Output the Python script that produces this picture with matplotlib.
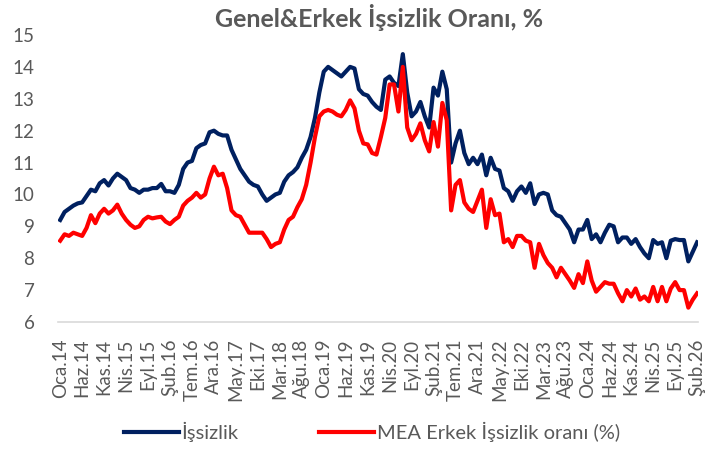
import matplotlib.pyplot as plt

plt.rcParams['font.family'] = ['Lato', 'DejaVu Sans']

aylar = ['Oca', 'Şub', 'Mar', 'Nis', 'May', 'Haz', 'Tem', 'Ağu', 'Eyl', 'Eki', 'Kas', 'Ara']
donemler = [f'{aylar[i % 12]}.{14 + i // 12}' for i in range(146)]

# İşsizlik (genel), Oca.14 - Şub.26
issizlik = [
    9.2, 9.45, 9.55, 9.65, 9.72, 9.75, 9.95, 10.15, 10.1, 10.35, 10.45, 10.28,
    10.5, 10.65, 10.55, 10.45, 10.2, 10.15, 10.05, 10.15, 10.15, 10.2, 10.2, 10.33,
    10.1, 10.1, 10.05, 10.3, 10.8, 11.0, 11.05, 11.45, 11.55, 11.6, 11.95, 12.0,
    11.9, 11.85, 11.85, 11.4, 11.1, 10.8, 10.6, 10.4, 10.3, 10.25, 10.0, 9.8,
    9.9, 10.0, 10.05, 10.4, 10.6, 10.7, 10.85, 11.15, 11.4, 11.8, 12.4, 13.2,
    13.85, 14.0, 13.9, 13.8, 13.7, 13.85, 14.0, 13.95, 13.3, 13.15, 13.1, 12.9,
    12.75, 12.65, 13.6, 13.7, 13.5, 13.4, 14.4, 13.2, 12.45, 12.6, 12.9, 12.45,
    12.1, 13.35, 13.1, 13.85, 13.3, 11.0, 11.6, 12.0, 11.3, 10.95, 11.15, 10.95,
    11.25, 10.6, 11.15, 10.8, 10.75, 10.2, 10.1, 9.8, 10.1, 10.25, 10.05, 10.35,
    9.7, 10.0, 10.05, 10.0, 9.5, 9.35, 9.3, 9.1, 8.9, 8.5, 8.9, 8.9,
    9.2, 8.6, 8.75, 8.5, 8.8, 9.05, 9.0, 8.5, 8.65, 8.65, 8.45, 8.6,
    8.35, 8.15, 8.0, 8.57, 8.45, 8.5, 8.0, 8.55, 8.6, 8.57, 8.57, 7.9,
    8.2, 8.5,
]

# MEA erkek işsizlik oranı (%)
erkek = [
    8.55, 8.75, 8.7, 8.8, 8.75, 8.7, 8.95, 9.35, 9.1, 9.4, 9.55, 9.4,
    9.5, 9.68, 9.4, 9.2, 9.05, 8.95, 9.0, 9.2, 9.3, 9.25, 9.28, 9.3,
    9.15, 9.07, 9.2, 9.3, 9.65, 9.8, 9.9, 10.05, 9.9, 10.0, 10.5, 10.87,
    10.6, 10.65, 10.2, 9.5, 9.35, 9.3, 9.05, 8.8, 8.8, 8.8, 8.8, 8.6,
    8.35, 8.45, 8.5, 8.9, 9.2, 9.3, 9.6, 9.85, 10.3, 11.0, 11.8, 12.45,
    12.6, 12.65, 12.6, 12.5, 12.45, 12.65, 12.95, 12.7, 12.0, 11.6, 11.57, 11.3,
    11.25, 11.8, 12.4, 13.45, 13.45, 12.6, 14.0, 12.1, 11.7, 11.9, 12.23, 11.7,
    11.35, 12.27, 11.5, 12.87, 12.33, 9.5, 10.3, 10.45, 9.75, 9.55, 9.45, 9.8,
    10.15, 8.95, 9.85, 9.35, 9.4, 8.5, 8.6, 8.35, 8.7, 8.7, 8.55, 8.5,
    7.7, 8.45, 8.1, 7.85, 7.7, 7.4, 7.7, 7.5, 7.3, 7.07, 7.5, 7.22,
    7.9, 7.3, 6.95, 7.1, 7.25, 7.2, 7.2, 6.9, 6.65, 7.0, 6.8, 7.05,
    6.7, 6.8, 6.65, 7.1, 6.65, 7.1, 6.65, 7.05, 7.25, 7.0, 7.0, 6.45,
    6.7, 6.9,
]

gri = '#595959'

fig = plt.figure(figsize=(7.21, 4.51), dpi=100)
ax = fig.add_axes([58 / 721, 1 - 322 / 451, 640 / 721, 287 / 451])

x = range(len(donemler))
ax.plot(x, issizlik, color='#002060', lw=3.0, label='İşsizlik', solid_joinstyle='round')
ax.plot(x, erkek, color='#ff0000', lw=3.0, label='MEA Erkek İşsizlik oranı (%)', solid_joinstyle='round')

ax.set_xlim(-0.5, 145.2)
ax.set_ylim(6, 15)
ax.set_yticks(range(6, 16))
ax.set_xticks(list(x)[::5])
ax.set_xticklabels(donemler[::5], rotation=90)
ax.tick_params(axis='both', length=0, labelsize=13.5, colors=gri)
ax.tick_params(axis='y', pad=17)
ax.tick_params(axis='x', pad=12)

for s in ['top', 'right', 'left']:
    ax.spines[s].set_visible(False)
ax.spines['bottom'].set_color('#d9d9d9')
ax.spines['bottom'].set_linewidth(1.2)

fig.text(0.526, 0.962, 'Genel&Erkek İşsizlik Oranı, %', ha='center', va='center',
         fontsize=18, fontweight='bold', color=gri)

leg = fig.legend(loc='center', bbox_to_anchor=(0.516, 0.042), ncol=2, frameon=False,
                 fontsize=14.5, handlelength=2.7, columnspacing=4.0, handletextpad=0.15)
for t in leg.get_texts():
    t.set_color(gri)

plt.savefig('out.png', dpi=100)
